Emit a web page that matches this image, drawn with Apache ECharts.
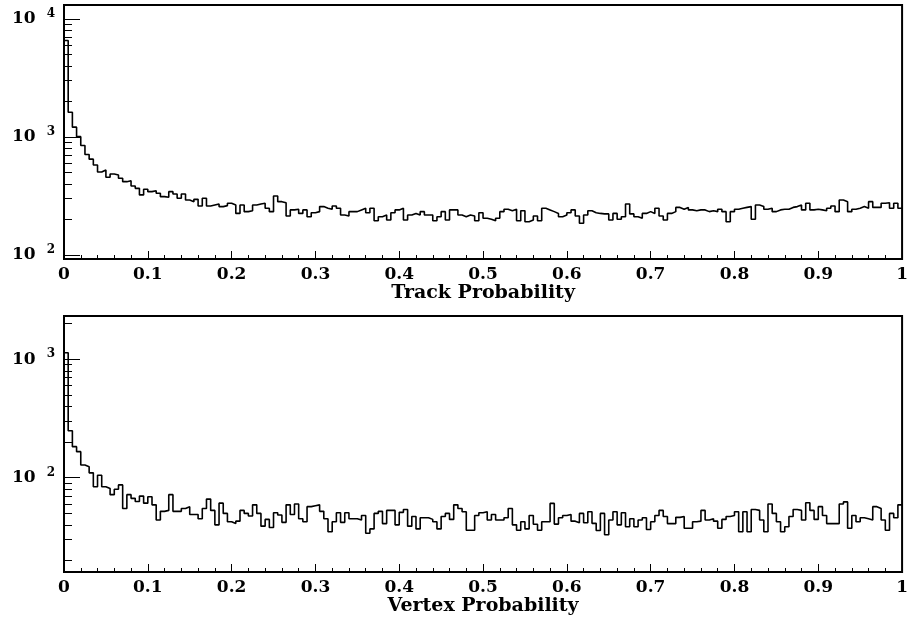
<!DOCTYPE html>
<html>
<head>
<meta charset="utf-8">
<script src="https://cdn.jsdelivr.net/npm/echarts@6/dist/echarts.min.js"></script>
<style>
  html, body { margin: 0; padding: 0; background: #fff; }
  #chart { width: 911px; height: 619px; }
</style>
</head>
<body>
<div id="chart"></div>
<script>
// 200 bins of width 0.005 between 0 and 1
const binWidth = 0.005;

const trackCounts = [
  6550, 1620, 1210, 1005, 845, 710, 648, 578, 505, 525,
  455, 485, 476, 447, 418, 426, 384, 367, 323, 360,
  344, 350, 333, 312, 308, 344, 329, 302, 329, 292,
  283, 296, 260, 302, 260, 265, 270, 257, 262, 274,
  265, 225, 265, 233, 237, 265, 270, 274, 249, 233,
  316, 283, 277, 214, 241, 244, 225, 241, 211, 228,
  233, 257, 249, 244, 260, 249, 218, 214, 233, 233,
  241, 249, 228, 249, 195, 211, 218, 198, 228, 241,
  249, 198, 218, 225, 218, 233, 218, 218, 195, 211,
  233, 198, 241, 241, 218, 211, 218, 214, 195, 228,
  205, 201, 195, 205, 233, 244, 237, 244, 195, 237,
  191, 198, 214, 195, 249, 241, 233, 225, 211, 218,
  228, 241, 214, 186, 218, 237, 228, 225, 223, 223,
  198, 225, 201, 211, 270, 223, 211, 205, 225, 233,
  225, 249, 214, 198, 225, 233, 253, 244, 253, 241,
  237, 241, 241, 233, 237, 233, 244, 233, 191, 233,
  244, 249, 253, 257, 201, 265, 257, 244, 249, 233,
  241, 244, 244, 253, 257, 265, 241, 274, 241, 244,
  241, 237, 249, 260, 233, 292, 283, 233, 244, 249,
  257, 249, 283, 253, 253, 274, 277, 249, 274, 249
];

const vertexCounts = [
  1137, 249, 183, 166, 128, 124, 110, 84, 105, 84,
  81, 72, 80, 87, 55, 72, 67, 63, 70, 61,
  69, 59, 44, 52, 53, 72, 52, 52, 55, 57,
  49, 49, 45, 55, 66, 53, 40, 61, 50, 42.5,
  41, 43, 53, 50, 47.5, 59, 50, 39, 44.5, 38,
  50.6, 48.4, 42, 59, 49, 60, 45, 42.5, 57, 58,
  59, 52, 45, 35, 42.5, 50.6, 42, 50.6, 45, 45,
  44, 48, 34, 37, 50, 52, 41, 53, 53, 40,
  51, 54, 39, 47, 37, 46, 46, 44.5, 42.5, 37,
  47, 50, 44.5, 59, 55, 51.6, 36, 36, 48, 50.6,
  51.6, 44, 49, 44, 44, 46, 55, 40, 36, 42.5,
  37, 48, 40.5, 36, 42.5, 42.5, 60.7, 40.6, 46, 48,
  49, 43, 41.7, 50, 41.7, 51.6, 41.2, 35.8, 50, 33,
  44, 51.6, 40, 50.6, 38.6, 45, 38.6, 44, 46, 36.6,
  42.5, 48, 53, 47, 41, 41, 46.3, 47, 37.4, 37.4,
  42.5, 43, 53, 44, 45, 43, 37.4, 44.5, 47, 48,
  51.6, 35, 51.6, 35, 54, 53, 44, 35, 60, 50,
  42.5, 35, 38.6, 47, 54, 53, 44, 61.5, 53, 44.5,
  57, 48, 41, 41, 41, 60, 62.5, 37.4, 48, 42.5,
  46, 45, 44, 57, 55, 44, 36, 50, 46, 59
];

const xTitles = ['Track Probability', 'Vertex Probability'];
const yRanges = [[92.5, 13100], [16, 2320]];
const majorTicks = [10, 100, 1000, 10000];
const minorTicks = [
  20, 30, 40, 50, 60, 70, 80, 90,
  200, 300, 400, 500, 600, 700, 800, 900,
  2000, 3000, 4000, 5000, 6000, 7000, 8000, 9000
];

function toSteps(counts) {
  const pts = counts.map((v, i) => [i * binWidth, v]);
  pts.push([counts.length * binWidth, counts[counts.length - 1]]);
  return pts;
}

const font = 'DejaVu Serif';
const grids = [
  { left: 64, top: 5, width: 841, height: 254 },
  { left: 64, top: 316, width: 841, height: 256 }
];

const xAxes = [];
const yAxes = [];
const series = [];

grids.forEach((g, k) => {
  g.show = true;
  g.borderColor = '#000';
  g.borderWidth = 2;
  const [lo, hi] = yRanges[k];
  const inRange = arr => arr.filter(v => v >= lo && v <= hi);

  xAxes.push({
    type: 'value', gridIndex: k, min: 0, max: 1, interval: 0.1,
    name: xTitles[k], nameLocation: 'middle', nameGap: 24,
    nameTextStyle: { fontFamily: font, fontWeight: 'bold', fontSize: 19, color: '#000' },
    axisLine: { lineStyle: { color: '#000', width: 2 } },
    axisTick: { inside: true, length: 8, lineStyle: { color: '#000', width: 1 } },
    minorTick: { show: true, splitNumber: 5, length: 4, lineStyle: { color: '#000', width: 1 } },
    axisLabel: { fontFamily: font, fontWeight: 'bold', fontSize: 17, color: '#000', margin: 7 },
    splitLine: { show: false }
  });

  // major ticks + labels
  yAxes.push({
    type: 'log', gridIndex: k, min: lo, max: hi, position: 'left',
    axisLine: { lineStyle: { color: '#000', width: 2 } },
    axisTick: { inside: true, length: 16, customValues: inRange(majorTicks), lineStyle: { color: '#000', width: 1 } },
    axisLabel: {
      customValues: inRange(majorTicks), margin: 9,
      formatter: v => '{a|10}{b|' + Math.round(Math.log10(v)) + '}',
      rich: {
        a: { fontFamily: font, fontWeight: 'bold', fontSize: 17, color: '#000', lineHeight: 22, verticalAlign: 'middle' },
        b: { fontFamily: font, fontWeight: 'bold', fontSize: 12, color: '#000', lineHeight: 12, verticalAlign: 'top', padding: [0, 0, 0, 11] }
      }
    },
    splitLine: { show: false }
  });
  // minor ticks
  yAxes.push({
    type: 'log', gridIndex: k, min: lo, max: hi, position: 'left',
    axisLine: { show: false },
    axisTick: { inside: true, length: 8, customValues: inRange(minorTicks), lineStyle: { color: '#000', width: 1 } },
    axisLabel: { show: false },
    splitLine: { show: false }
  });

  series.push({
    type: 'line', xAxisIndex: k, yAxisIndex: 2 * k, step: 'end',
    data: toSteps(k === 0 ? trackCounts : vertexCounts),
    showSymbol: false, silent: true, animation: false,
    lineStyle: { color: '#000', width: 1.6 }
  });
});

const chart = echarts.init(document.getElementById('chart'));
chart.setOption({
  backgroundColor: '#fff',
  animation: false,
  grid: grids,
  xAxis: xAxes,
  yAxis: yAxes,
  series: series
});
</script>
</body>
</html>
